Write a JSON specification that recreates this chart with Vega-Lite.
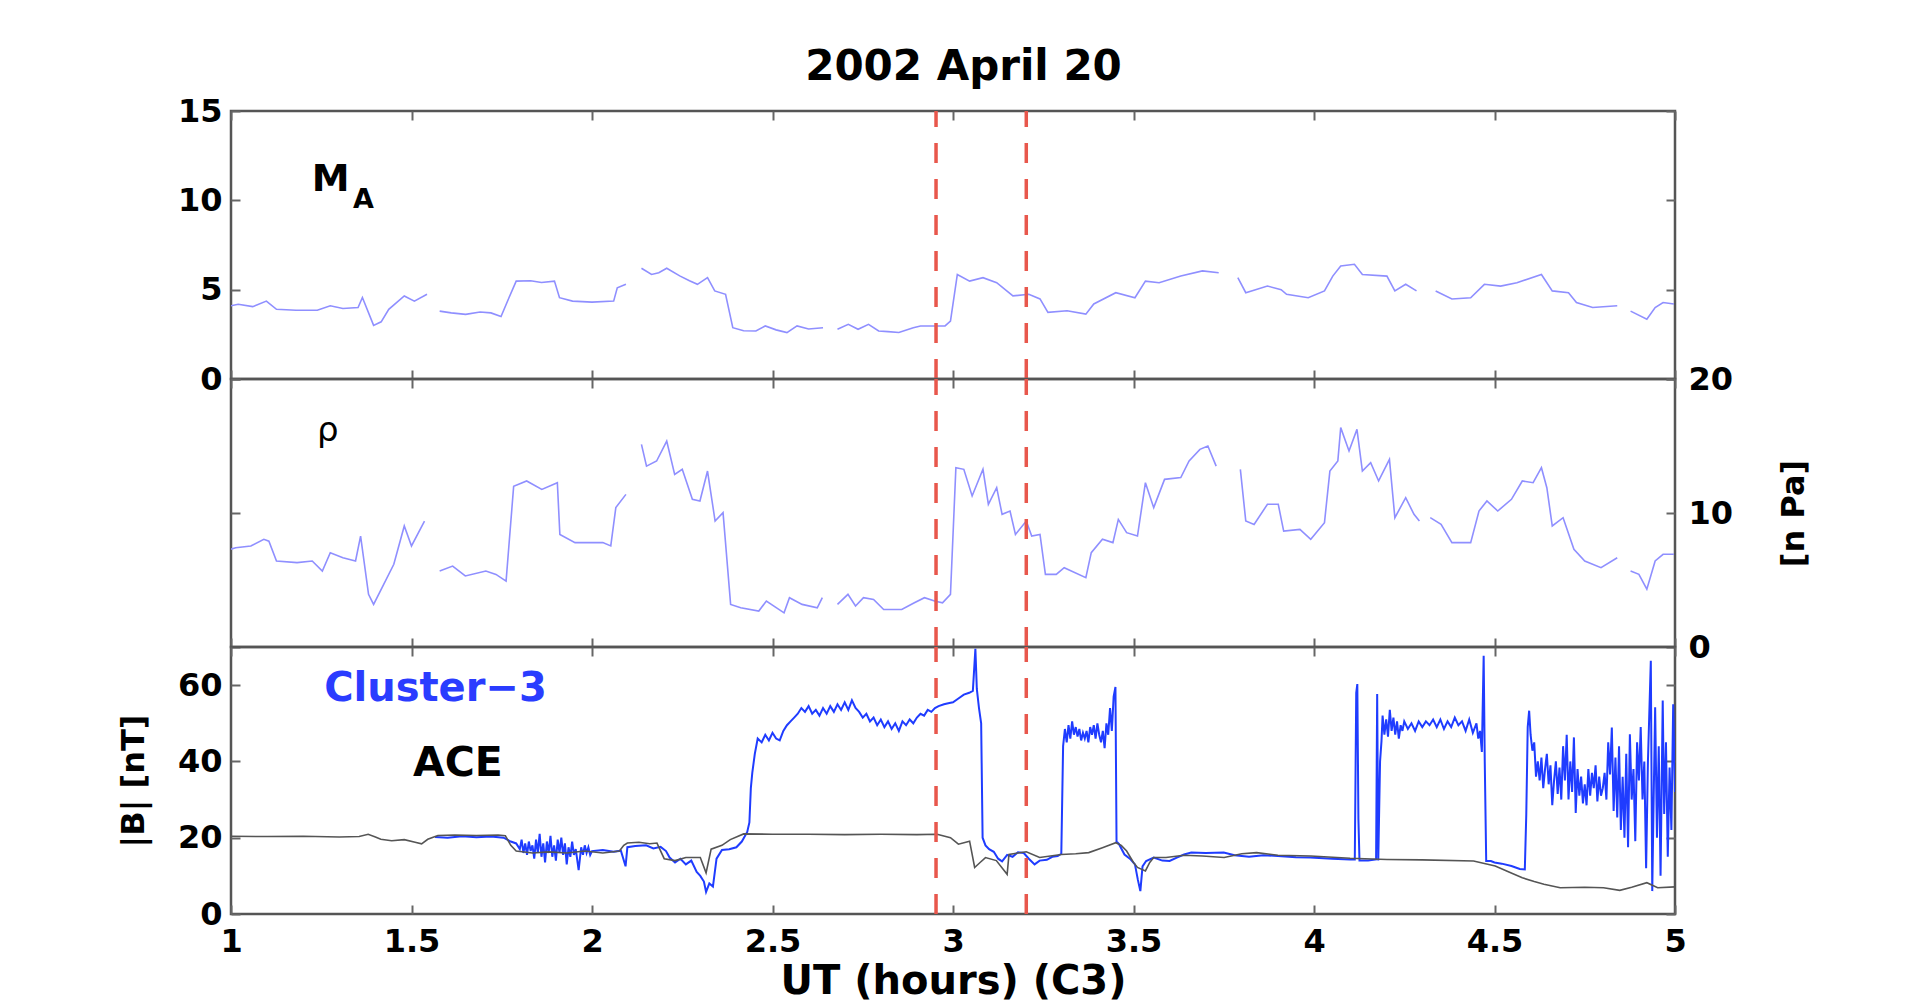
{
"$schema": "https://vega.github.io/schema/vega-lite/v6.json",
"padding": {"left": 116, "top": 45, "right": 10, "bottom": 5},
"bounds": "flush",
"spacing": 0,
"title": {"text": "2002 April 20", "fontSize": 42, "fontWeight": "bold", "font": "DejaVu Sans", "color": "#000000", "anchor": "middle", "offset": 5},
"datasets": {
"red": [{"t": 2.953}, {"t": 3.203}],
"ma": [
{"t":1.0,"v":4.1,"s":1},{"t":1.02,"v":4.18,"s":1},{"t":1.06,"v":4.05,"s":1},{"t":1.098,"v":4.36,"s":1},{"t":1.126,"v":3.9,"s":1},{"t":1.18,"v":3.85,"s":1},{"t":1.239,"v":3.85,"s":1},{"t":1.275,"v":4.1,"s":1},{"t":1.31,"v":3.95,"s":1},{"t":1.352,"v":4.0,"s":1},{"t":1.364,"v":4.56,"s":1},{"t":1.395,"v":3.0,"s":1},{"t":1.416,"v":3.2,"s":1},{"t":1.437,"v":3.9,"s":1},{"t":1.48,"v":4.65,"s":1},{"t":1.508,"v":4.36,"s":1},{"t":1.543,"v":4.74,"s":1},
{"t":1.578,"v":3.8,"s":2},{"t":1.61,"v":3.7,"s":2},{"t":1.65,"v":3.62,"s":2},{"t":1.69,"v":3.75,"s":2},{"t":1.72,"v":3.7,"s":2},{"t":1.748,"v":3.5,"s":2},{"t":1.77,"v":4.55,"s":2},{"t":1.79,"v":5.48,"s":2},{"t":1.83,"v":5.5,"s":2},{"t":1.86,"v":5.4,"s":2},{"t":1.896,"v":5.48,"s":2},{"t":1.91,"v":4.55,"s":2},{"t":1.946,"v":4.36,"s":2},{"t":2.0,"v":4.3,"s":2},{"t":2.06,"v":4.36,"s":2},{"t":2.07,"v":5.1,"s":2},{"t":2.094,"v":5.3,"s":2},
{"t":2.137,"v":6.2,"s":3},{"t":2.165,"v":5.85,"s":3},{"t":2.185,"v":5.95,"s":3},{"t":2.207,"v":6.2,"s":3},{"t":2.243,"v":5.77,"s":3},{"t":2.27,"v":5.5,"s":3},{"t":2.292,"v":5.3,"s":3},{"t":2.32,"v":5.67,"s":3},{"t":2.34,"v":4.93,"s":3},{"t":2.37,"v":4.74,"s":3},{"t":2.39,"v":2.87,"s":3},{"t":2.42,"v":2.7,"s":3},{"t":2.454,"v":2.69,"s":3},{"t":2.48,"v":2.97,"s":3},{"t":2.51,"v":2.75,"s":3},{"t":2.54,"v":2.6,"s":3},{"t":2.568,"v":2.97,"s":3},{"t":2.6,"v":2.8,"s":3},{"t":2.64,"v":2.87,"s":3},
{"t":2.68,"v":2.78,"s":4},{"t":2.71,"v":3.06,"s":4},{"t":2.737,"v":2.78,"s":4},{"t":2.766,"v":3.06,"s":4},{"t":2.794,"v":2.69,"s":4},{"t":2.82,"v":2.65,"s":4},{"t":2.85,"v":2.6,"s":4},{"t":2.89,"v":2.87,"s":4},{"t":2.91,"v":2.97,"s":4},{"t":2.95,"v":2.97,"s":4},{"t":2.978,"v":2.97,"s":4},{"t":2.993,"v":3.24,"s":4},{"t":3.012,"v":5.85,"s":4},{"t":3.046,"v":5.48,"s":4},{"t":3.083,"v":5.67,"s":4},{"t":3.121,"v":5.39,"s":4},{"t":3.166,"v":4.65,"s":4},{"t":3.21,"v":4.74,"s":4},{"t":3.241,"v":4.48,"s":4},{"t":3.263,"v":3.73,"s":4},{"t":3.316,"v":3.82,"s":4},{"t":3.368,"v":3.63,"s":4},{"t":3.39,"v":4.2,"s":4},{"t":3.451,"v":4.83,"s":4},{"t":3.504,"v":4.55,"s":4},{"t":3.533,"v":5.48,"s":4},{"t":3.571,"v":5.39,"s":4},{"t":3.631,"v":5.76,"s":4},{"t":3.691,"v":6.05,"s":4},{"t":3.736,"v":5.95,"s":4},
{"t":3.789,"v":5.67,"s":5},{"t":3.811,"v":4.83,"s":5},{"t":3.871,"v":5.2,"s":5},{"t":3.909,"v":5.0,"s":5},{"t":3.924,"v":4.74,"s":5},{"t":3.984,"v":4.55,"s":5},{"t":4.029,"v":4.93,"s":5},{"t":4.052,"v":5.76,"s":5},{"t":4.074,"v":6.33,"s":5},{"t":4.112,"v":6.42,"s":5},{"t":4.134,"v":5.85,"s":5},{"t":4.202,"v":5.76,"s":5},{"t":4.224,"v":4.93,"s":5},{"t":4.254,"v":5.3,"s":5},{"t":4.284,"v":4.93,"s":5},
{"t":4.337,"v":4.93,"s":6},{"t":4.382,"v":4.48,"s":6},{"t":4.434,"v":4.55,"s":6},{"t":4.472,"v":5.3,"s":6},{"t":4.517,"v":5.2,"s":6},{"t":4.562,"v":5.39,"s":6},{"t":4.63,"v":5.85,"s":6},{"t":4.66,"v":4.93,"s":6},{"t":4.705,"v":4.83,"s":6},{"t":4.727,"v":4.28,"s":6},{"t":4.772,"v":4.0,"s":6},{"t":4.84,"v":4.1,"s":6},
{"t":4.877,"v":3.8,"s":7},{"t":4.922,"v":3.34,"s":7},{"t":4.945,"v":4.0,"s":7},{"t":4.967,"v":4.28,"s":7},{"t":4.997,"v":4.2,"s":7}
],
"rho": [
{"t":1.0,"v":7.3,"s":1},{"t":1.013,"v":7.41,"s":1},{"t":1.055,"v":7.54,"s":1},{"t":1.091,"v":8.04,"s":1},{"t":1.105,"v":7.9,"s":1},{"t":1.126,"v":6.42,"s":1},{"t":1.183,"v":6.3,"s":1},{"t":1.225,"v":6.42,"s":1},{"t":1.253,"v":5.67,"s":1},{"t":1.275,"v":7.04,"s":1},{"t":1.31,"v":6.66,"s":1},{"t":1.345,"v":6.42,"s":1},{"t":1.359,"v":8.28,"s":1},{"t":1.381,"v":3.93,"s":1},{"t":1.395,"v":3.18,"s":1},{"t":1.423,"v":4.68,"s":1},{"t":1.451,"v":6.17,"s":1},{"t":1.48,"v":9.03,"s":1},{"t":1.5,"v":7.54,"s":1},{"t":1.536,"v":9.4,"s":1},
{"t":1.578,"v":5.67,"s":2},{"t":1.614,"v":6.04,"s":2},{"t":1.649,"v":5.3,"s":2},{"t":1.706,"v":5.67,"s":2},{"t":1.734,"v":5.42,"s":2},{"t":1.762,"v":4.92,"s":2},{"t":1.783,"v":12.0,"s":2},{"t":1.819,"v":12.39,"s":2},{"t":1.861,"v":11.76,"s":2},{"t":1.904,"v":12.26,"s":2},{"t":1.911,"v":8.4,"s":2},{"t":1.953,"v":7.79,"s":2},{"t":2.03,"v":7.79,"s":2},{"t":2.052,"v":7.54,"s":2},{"t":2.066,"v":10.4,"s":2},{"t":2.094,"v":11.39,"s":2},
{"t":2.137,"v":15.12,"s":3},{"t":2.151,"v":13.5,"s":3},{"t":2.179,"v":13.88,"s":3},{"t":2.207,"v":15.37,"s":3},{"t":2.229,"v":12.88,"s":3},{"t":2.25,"v":13.26,"s":3},{"t":2.278,"v":11.02,"s":3},{"t":2.299,"v":10.9,"s":3},{"t":2.32,"v":13.13,"s":3},{"t":2.341,"v":9.4,"s":3},{"t":2.363,"v":10.03,"s":3},{"t":2.384,"v":3.18,"s":3},{"t":2.412,"v":2.93,"s":3},{"t":2.462,"v":2.68,"s":3},{"t":2.483,"v":3.43,"s":3},{"t":2.532,"v":2.55,"s":3},{"t":2.547,"v":3.68,"s":3},{"t":2.582,"v":3.18,"s":3},{"t":2.624,"v":2.93,"s":3},{"t":2.638,"v":3.68,"s":3},
{"t":2.68,"v":3.18,"s":4},{"t":2.709,"v":3.93,"s":4},{"t":2.73,"v":3.06,"s":4},{"t":2.752,"v":3.68,"s":4},{"t":2.78,"v":3.55,"s":4},{"t":2.808,"v":2.8,"s":4},{"t":2.858,"v":2.8,"s":4},{"t":2.893,"v":3.3,"s":4},{"t":2.921,"v":3.68,"s":4},{"t":2.949,"v":3.43,"s":4},{"t":2.971,"v":3.3,"s":4},{"t":2.993,"v":3.93,"s":4},{"t":3.008,"v":13.38,"s":4},{"t":3.03,"v":13.26,"s":4},{"t":3.053,"v":11.27,"s":4},{"t":3.083,"v":13.26,"s":4},{"t":3.098,"v":10.65,"s":4},{"t":3.121,"v":11.89,"s":4},{"t":3.136,"v":9.9,"s":4},{"t":3.158,"v":10.15,"s":4},{"t":3.173,"v":8.4,"s":4},{"t":3.203,"v":9.4,"s":4},{"t":3.218,"v":8.28,"s":4},{"t":3.241,"v":8.4,"s":4},{"t":3.256,"v":5.42,"s":4},{"t":3.286,"v":5.42,"s":4},{"t":3.308,"v":5.92,"s":4},{"t":3.368,"v":5.17,"s":4},{"t":3.383,"v":7.04,"s":4},{"t":3.414,"v":8.04,"s":4},{"t":3.443,"v":7.79,"s":4},{"t":3.458,"v":9.52,"s":4},{"t":3.481,"v":8.53,"s":4},{"t":3.511,"v":8.28,"s":4},{"t":3.533,"v":12.26,"s":4},{"t":3.556,"v":10.4,"s":4},{"t":3.586,"v":12.51,"s":4},{"t":3.631,"v":12.64,"s":4},{"t":3.654,"v":13.88,"s":4},{"t":3.684,"v":14.75,"s":4},{"t":3.706,"v":15.0,"s":4},{"t":3.729,"v":13.5,"s":4},
{"t":3.796,"v":13.26,"s":5},{"t":3.811,"v":9.4,"s":5},{"t":3.834,"v":9.15,"s":5},{"t":3.871,"v":10.65,"s":5},{"t":3.901,"v":10.65,"s":5},{"t":3.916,"v":8.65,"s":5},{"t":3.961,"v":8.78,"s":5},{"t":3.991,"v":8.04,"s":5},{"t":4.029,"v":9.28,"s":5},{"t":4.044,"v":13.13,"s":5},{"t":4.066,"v":13.88,"s":5},{"t":4.074,"v":16.37,"s":5},{"t":4.097,"v":14.63,"s":5},{"t":4.119,"v":16.24,"s":5},{"t":4.134,"v":13.13,"s":5},{"t":4.157,"v":13.76,"s":5},{"t":4.179,"v":12.39,"s":5},{"t":4.209,"v":14.0,"s":5},{"t":4.224,"v":9.65,"s":5},{"t":4.254,"v":11.14,"s":5},{"t":4.277,"v":9.9,"s":5},{"t":4.292,"v":9.4,"s":5},
{"t":4.322,"v":9.65,"s":6},{"t":4.352,"v":9.15,"s":6},{"t":4.382,"v":7.79,"s":6},{"t":4.434,"v":7.79,"s":6},{"t":4.457,"v":10.15,"s":6},{"t":4.479,"v":10.9,"s":6},{"t":4.509,"v":10.15,"s":6},{"t":4.547,"v":11.02,"s":6},{"t":4.577,"v":12.39,"s":6},{"t":4.607,"v":12.26,"s":6},{"t":4.63,"v":13.38,"s":6},{"t":4.645,"v":11.89,"s":6},{"t":4.66,"v":9.03,"s":6},{"t":4.69,"v":9.65,"s":6},{"t":4.72,"v":7.29,"s":6},{"t":4.75,"v":6.42,"s":6},{"t":4.795,"v":5.92,"s":6},{"t":4.84,"v":6.66,"s":6},
{"t":4.877,"v":5.67,"s":7},{"t":4.9,"v":5.42,"s":7},{"t":4.922,"v":4.31,"s":7},{"t":4.945,"v":6.42,"s":7},{"t":4.967,"v":6.92,"s":7},{"t":4.997,"v":6.92,"s":7}
],
"bc": [
{"t":1.565,"v":20.2},{"t":1.6,"v":20.0},{"t":1.64,"v":20.4},{"t":1.68,"v":20.1},{"t":1.72,"v":20.3},{"t":1.755,"v":20.0},{"t":1.775,"v":19.0},{"t":1.79,"v":18.5},
{"t":1.8,"v":17.0},{"t":1.805,"v":19.5},{"t":1.81,"v":16.0},{"t":1.815,"v":18.5},{"t":1.82,"v":15.5},{"t":1.825,"v":19.0},{"t":1.83,"v":16.5},{"t":1.835,"v":18.0},{"t":1.84,"v":14.5},{"t":1.845,"v":19.5},{"t":1.85,"v":16.0},{"t":1.855,"v":21.0},{"t":1.86,"v":15.0},{"t":1.865,"v":18.5},{"t":1.87,"v":13.5},{"t":1.875,"v":19.0},{"t":1.88,"v":16.0},{"t":1.885,"v":20.5},{"t":1.89,"v":15.0},{"t":1.895,"v":18.0},{"t":1.9,"v":14.0},{"t":1.905,"v":19.5},{"t":1.91,"v":16.0},{"t":1.915,"v":20.0},{"t":1.92,"v":15.5},{"t":1.925,"v":18.5},{"t":1.93,"v":13.0},{"t":1.935,"v":17.5},{"t":1.94,"v":15.0},{"t":1.945,"v":19.0},{"t":1.95,"v":15.5},{"t":1.955,"v":17.0},{"t":1.963,"v":11.5},{"t":1.97,"v":17.5},{"t":1.975,"v":15.5},{"t":1.98,"v":18.0},{"t":1.985,"v":16.0},{"t":1.99,"v":17.5},{"t":1.995,"v":15.5},
{"t":2.0,"v":16.5},{"t":2.03,"v":16.8},{"t":2.06,"v":16.3},{"t":2.08,"v":16.6},{"t":2.093,"v":12.5},{"t":2.098,"v":17.5},{"t":2.12,"v":17.8},{"t":2.15,"v":18.0},{"t":2.17,"v":17.2},{"t":2.19,"v":17.6},{"t":2.205,"v":16.5},{"t":2.215,"v":14.8},{"t":2.23,"v":13.5},{"t":2.245,"v":14.5},{"t":2.26,"v":13.0},{"t":2.275,"v":14.0},{"t":2.29,"v":11.0},{"t":2.3,"v":10.0},{"t":2.31,"v":8.5},{"t":2.316,"v":5.8},{"t":2.325,"v":8.0},{"t":2.335,"v":7.2},{"t":2.345,"v":14.5},{"t":2.36,"v":16.8},{"t":2.38,"v":17.0},{"t":2.4,"v":17.5},{"t":2.415,"v":19.0},{"t":2.43,"v":21.5},{"t":2.436,"v":24.0},{"t":2.44,"v":33.0},{"t":2.444,"v":37.0},{"t":2.451,"v":42.0},{"t":2.459,"v":46.0},
{"t":2.47,"v":45.0},{"t":2.48,"v":47.0},{"t":2.49,"v":45.5},{"t":2.5,"v":47.5},{"t":2.51,"v":46.0},{"t":2.52,"v":45.5},{"t":2.53,"v":48.0},{"t":2.54,"v":49.5},{"t":2.55,"v":50.5},{"t":2.56,"v":51.5},{"t":2.57,"v":52.5},{"t":2.58,"v":54.0},{"t":2.59,"v":53.0},{"t":2.6,"v":54.5},{"t":2.61,"v":52.5},{"t":2.62,"v":53.5},{"t":2.63,"v":52.0},{"t":2.64,"v":54.0},{"t":2.65,"v":52.5},{"t":2.66,"v":54.5},{"t":2.67,"v":53.0},{"t":2.68,"v":55.0},{"t":2.69,"v":53.5},{"t":2.7,"v":55.5},{"t":2.71,"v":53.5},{"t":2.72,"v":56.0},{"t":2.73,"v":54.0},{"t":2.74,"v":53.0},{"t":2.75,"v":51.5},{"t":2.76,"v":52.5},{"t":2.77,"v":50.5},{"t":2.78,"v":51.5},{"t":2.79,"v":49.5},{"t":2.8,"v":51.0},{"t":2.81,"v":49.0},{"t":2.82,"v":50.5},{"t":2.83,"v":48.5},{"t":2.84,"v":50.0},{"t":2.85,"v":48.0},{"t":2.86,"v":50.5},{"t":2.87,"v":49.5},{"t":2.88,"v":51.0},{"t":2.89,"v":50.0},{"t":2.9,"v":51.5},{"t":2.91,"v":52.5},{"t":2.92,"v":52.0},{"t":2.93,"v":53.5},{"t":2.94,"v":53.0},{"t":2.95,"v":54.0},{"t":2.96,"v":54.5},{"t":2.975,"v":55.0},{"t":2.99,"v":55.3},{"t":3.0,"v":55.5},{"t":3.015,"v":56.5},{"t":3.03,"v":57.5},{"t":3.045,"v":58.0},{"t":3.055,"v":58.5},{"t":3.062,"v":69.5},{"t":3.066,"v":59.0},{"t":3.072,"v":54.0},{"t":3.078,"v":50.0},{"t":3.082,"v":20.0},
{"t":3.09,"v":18.0},{"t":3.1,"v":17.0},{"t":3.113,"v":16.3},{"t":3.125,"v":14.5},{"t":3.136,"v":13.8},{"t":3.15,"v":15.5},{"t":3.165,"v":15.0},{"t":3.18,"v":16.2},{"t":3.196,"v":16.0},{"t":3.21,"v":14.5},{"t":3.226,"v":13.0},{"t":3.24,"v":14.0},{"t":3.26,"v":14.2},{"t":3.275,"v":15.0},{"t":3.29,"v":15.2},{"t":3.3,"v":15.8},
{"t":3.305,"v":44.0},{"t":3.31,"v":48.5},{"t":3.315,"v":45.0},{"t":3.32,"v":49.5},{"t":3.325,"v":46.0},{"t":3.33,"v":50.5},{"t":3.335,"v":47.0},{"t":3.34,"v":49.0},{"t":3.345,"v":46.5},{"t":3.35,"v":48.5},{"t":3.355,"v":45.5},{"t":3.36,"v":47.5},{"t":3.365,"v":46.0},{"t":3.37,"v":48.0},{"t":3.375,"v":45.0},{"t":3.38,"v":49.0},{"t":3.385,"v":47.0},{"t":3.39,"v":49.5},{"t":3.395,"v":46.0},{"t":3.4,"v":50.0},{"t":3.405,"v":47.0},{"t":3.41,"v":45.0},{"t":3.415,"v":48.0},{"t":3.42,"v":43.5},{"t":3.425,"v":50.0},{"t":3.43,"v":47.0},{"t":3.435,"v":54.0},{"t":3.44,"v":48.0},{"t":3.445,"v":57.0},{"t":3.45,"v":59.5},{"t":3.453,"v":19.0},
{"t":3.46,"v":18.3},{"t":3.475,"v":15.6},{"t":3.49,"v":14.5},{"t":3.504,"v":13.0},{"t":3.512,"v":9.0},{"t":3.519,"v":6.0},{"t":3.525,"v":12.5},{"t":3.535,"v":13.9},{"t":3.556,"v":14.8},{"t":3.58,"v":14.0},{"t":3.6,"v":13.9},{"t":3.62,"v":14.8},{"t":3.64,"v":15.6},{"t":3.66,"v":16.1},{"t":3.7,"v":16.0},{"t":3.75,"v":16.1},{"t":3.78,"v":15.4},{"t":3.82,"v":15.0},{"t":3.86,"v":15.4},{"t":3.9,"v":15.2},{"t":3.95,"v":14.9},{"t":3.99,"v":14.8},{"t":4.05,"v":14.5},{"t":4.1,"v":14.3},{"t":4.113,"v":14.3},{"t":4.117,"v":58.0},{"t":4.12,"v":60.3},{"t":4.123,"v":25.0},{"t":4.126,"v":14.0},{"t":4.15,"v":14.0},{"t":4.172,"v":14.3},{"t":4.175,"v":57.7},{"t":4.178,"v":14.0},
{"t":4.183,"v":40.0},{"t":4.187,"v":45.4},{"t":4.19,"v":52.0},{"t":4.195,"v":47.0},{"t":4.2,"v":51.0},{"t":4.205,"v":46.5},{"t":4.21,"v":53.5},{"t":4.215,"v":48.0},{"t":4.22,"v":51.5},{"t":4.225,"v":47.0},{"t":4.23,"v":50.5},{"t":4.235,"v":46.0},{"t":4.24,"v":49.5},{"t":4.245,"v":48.0},{"t":4.25,"v":50.5},{"t":4.26,"v":48.5},{"t":4.27,"v":50.0},{"t":4.28,"v":48.0},{"t":4.29,"v":50.5},{"t":4.3,"v":49.0},{"t":4.31,"v":50.5},{"t":4.32,"v":49.5},{"t":4.33,"v":51.0},{"t":4.34,"v":49.0},{"t":4.35,"v":51.0},{"t":4.36,"v":48.5},{"t":4.37,"v":50.5},{"t":4.38,"v":49.0},{"t":4.39,"v":51.5},{"t":4.4,"v":49.5},{"t":4.41,"v":50.5},{"t":4.42,"v":48.0},{"t":4.43,"v":51.0},{"t":4.44,"v":47.5},{"t":4.45,"v":50.0},{"t":4.455,"v":46.0},{"t":4.46,"v":48.0},{"t":4.465,"v":42.5},{"t":4.47,"v":67.7},{"t":4.473,"v":40.0},{"t":4.477,"v":13.9},
{"t":4.49,"v":13.9},{"t":4.5,"v":13.5},{"t":4.52,"v":13.2},{"t":4.547,"v":12.6},{"t":4.57,"v":11.8},{"t":4.584,"v":11.7},{"t":4.588,"v":26.0},{"t":4.592,"v":49.0},{"t":4.596,"v":53.3},{"t":4.6,"v":47.0},{"t":4.605,"v":42.8},{"t":4.61,"v":45.0},{"t":4.615,"v":36.0},{"t":4.62,"v":40.0},{"t":4.625,"v":35.0},{"t":4.63,"v":41.0},{"t":4.635,"v":33.0},{"t":4.64,"v":38.0},{"t":4.645,"v":42.0},{"t":4.65,"v":34.0},{"t":4.655,"v":39.0},{"t":4.66,"v":28.5},{"t":4.665,"v":35.0},{"t":4.67,"v":40.0},{"t":4.675,"v":31.5},{"t":4.68,"v":38.4},{"t":4.685,"v":30.0},{"t":4.69,"v":44.0},{"t":4.695,"v":35.0},{"t":4.7,"v":47.0},{"t":4.705,"v":30.0},{"t":4.71,"v":40.0},{"t":4.715,"v":32.0},{"t":4.72,"v":46.3},{"t":4.725,"v":26.5},{"t":4.73,"v":38.0},{"t":4.735,"v":31.0},{"t":4.74,"v":36.0},{"t":4.745,"v":29.0},{"t":4.75,"v":34.0},{"t":4.755,"v":28.5},{"t":4.76,"v":38.0},{"t":4.765,"v":31.0},{"t":4.77,"v":37.0},{"t":4.775,"v":33.0},{"t":4.78,"v":39.0},{"t":4.785,"v":29.5},{"t":4.79,"v":36.0},{"t":4.795,"v":31.0},{"t":4.8,"v":33.0},{"t":4.805,"v":37.0},{"t":4.81,"v":30.0},{"t":4.815,"v":45.0},{"t":4.82,"v":36.6},{"t":4.825,"v":48.9},{"t":4.83,"v":27.0},{"t":4.835,"v":41.0},{"t":4.84,"v":25.3},{"t":4.845,"v":44.0},{"t":4.85,"v":22.0},{"t":4.855,"v":36.0},{"t":4.86,"v":20.0},{"t":4.865,"v":42.0},{"t":4.87,"v":17.5},{"t":4.875,"v":47.1},{"t":4.88,"v":30.0},{"t":4.885,"v":38.0},{"t":4.89,"v":19.1},{"t":4.895,"v":45.0},{"t":4.9,"v":35.0},{"t":4.905,"v":49.0},{"t":4.91,"v":30.0},{"t":4.915,"v":40.0},{"t":4.92,"v":12.0},{"t":4.925,"v":40.0},{"t":4.933,"v":66.4},{"t":4.937,"v":6.0},{"t":4.94,"v":25.0},{"t":4.945,"v":54.2},{"t":4.95,"v":20.0},{"t":4.955,"v":44.0},{"t":4.96,"v":10.0},{"t":4.966,"v":56.0},{"t":4.97,"v":26.2},{"t":4.975,"v":45.0},{"t":4.98,"v":15.0},{"t":4.985,"v":38.4},{"t":4.99,"v":22.0},{"t":4.995,"v":55.0},{"t":5.0,"v":32.0}
],
"ace": [
{"t":1.0,"v":20.4},{"t":1.1,"v":20.3},{"t":1.2,"v":20.4},{"t":1.3,"v":20.2},{"t":1.355,"v":20.3},{"t":1.38,"v":20.9},{"t":1.4,"v":20.2},{"t":1.415,"v":19.6},{"t":1.445,"v":19.2},{"t":1.48,"v":19.5},{"t":1.51,"v":18.8},{"t":1.528,"v":18.4},{"t":1.545,"v":19.6},{"t":1.573,"v":20.6},{"t":1.62,"v":20.7},{"t":1.68,"v":20.6},{"t":1.74,"v":20.7},{"t":1.76,"v":20.5},{"t":1.775,"v":18.0},{"t":1.79,"v":16.5},{"t":1.835,"v":16.0},{"t":1.88,"v":16.3},{"t":1.93,"v":16.0},{"t":1.98,"v":16.5},{"t":2.03,"v":16.0},{"t":2.076,"v":16.5},{"t":2.088,"v":18.0},{"t":2.098,"v":18.6},{"t":2.13,"v":18.8},{"t":2.16,"v":18.4},{"t":2.18,"v":18.6},{"t":2.2,"v":14.5},{"t":2.23,"v":14.0},{"t":2.26,"v":14.8},{"t":2.3,"v":14.8},{"t":2.316,"v":10.8},{"t":2.33,"v":17.0},{"t":2.36,"v":18.0},{"t":2.383,"v":19.5},{"t":2.42,"v":21.0},{"t":2.5,"v":20.9},{"t":2.6,"v":20.9},{"t":2.7,"v":20.8},{"t":2.8,"v":20.9},{"t":2.9,"v":20.8},{"t":2.956,"v":20.9},{"t":2.993,"v":20.0},{"t":3.015,"v":18.3},{"t":3.046,"v":19.1},{"t":3.06,"v":12.2},{"t":3.075,"v":13.5},{"t":3.09,"v":14.8},{"t":3.12,"v":14.0},{"t":3.15,"v":10.4},{"t":3.155,"v":15.6},{"t":3.18,"v":16.0},{"t":3.203,"v":16.3},{"t":3.24,"v":14.8},{"t":3.27,"v":15.2},{"t":3.3,"v":15.6},{"t":3.34,"v":15.8},{"t":3.376,"v":16.1},{"t":3.414,"v":17.4},{"t":3.451,"v":18.7},{"t":3.466,"v":18.0},{"t":3.481,"v":16.5},{"t":3.5,"v":13.5},{"t":3.511,"v":12.2},{"t":3.533,"v":11.3},{"t":3.545,"v":13.5},{"t":3.556,"v":14.8},{"t":3.59,"v":14.8},{"t":3.64,"v":15.4},{"t":3.691,"v":15.2},{"t":3.751,"v":14.8},{"t":3.8,"v":15.8},{"t":3.841,"v":16.1},{"t":3.9,"v":15.4},{"t":3.991,"v":15.2},{"t":4.1,"v":14.6},{"t":4.202,"v":14.3},{"t":4.3,"v":14.2},{"t":4.442,"v":13.9},{"t":4.502,"v":12.6},{"t":4.54,"v":11.0},{"t":4.577,"v":9.5},{"t":4.61,"v":8.5},{"t":4.637,"v":7.8},{"t":4.682,"v":6.9},{"t":4.75,"v":7.0},{"t":4.802,"v":6.9},{"t":4.847,"v":6.2},{"t":4.88,"v":7.0},{"t":4.922,"v":8.2},{"t":4.952,"v":6.9},{"t":5.0,"v":7.1}
]
},
"vconcat": [
{
"width": 1444, "height": 268,
"layer": [
{"data": {"name": "ma"},
 "mark": {"type": "line", "color": "#8f8fff", "strokeWidth": 1.6, "clip": true},
 "encoding": {
  "x": {"field": "t", "type": "quantitative", "scale": {"domain": [1, 5], "nice": false}, "axis": {"orient": "bottom", "values": [1,1.5,2,2.5,3,3.5,4,4.5,5], "labels": false, "title": null}},
  "y": {"field": "v", "type": "quantitative", "scale": {"domain": [0, 15], "nice": false}, "axis": {"orient": "left", "values": [0,5,10,15], "title": null, "labelPadding": 18}},
  "detail": {"field": "s", "type": "nominal"}
 }},
{"data": {"name": "red"},
 "mark": {"type": "rule", "color": "#e8574c", "strokeWidth": 3.5, "strokeDash": [20, 16]},
 "encoding": {
  "x": {"field": "t", "type": "quantitative", "axis": {"orient": "top", "values": [1,1.5,2,2.5,3,3.5,4,4.5,5], "labels": false, "title": null}},
  "y": {"datum": 0, "type": "quantitative", "axis": {"orient": "right", "values": [0,5,10,15], "labels": false, "title": null}},
  "y2": {"datum": 15}
 }},
{"data": {"values": [{}]},
 "mark": {"type": "text", "text": "M", "align": "left", "baseline": "alphabetic", "fontSize": 38, "fontWeight": "bold", "font": "DejaVu Sans", "color": "#000000"},
 "encoding": {"x": {"datum": 1.224, "type": "quantitative", "axis": null}, "y": {"datum": 10.52, "type": "quantitative", "axis": null}}},
{"data": {"values": [{}]},
 "mark": {"type": "text", "text": "A", "align": "left", "baseline": "alphabetic", "fontSize": 27, "fontWeight": "bold", "font": "DejaVu Sans", "color": "#000000"},
 "encoding": {"x": {"datum": 1.338, "type": "quantitative", "axis": null}, "y": {"datum": 9.57, "type": "quantitative", "axis": null}}}
],
"resolve": {"axis": {"x": "independent", "y": "independent"}}
},
{
"width": 1444, "height": 268,
"layer": [
{"data": {"name": "rho"},
 "mark": {"type": "line", "color": "#8f8fff", "strokeWidth": 1.6, "clip": true},
 "encoding": {
  "x": {"field": "t", "type": "quantitative", "scale": {"domain": [1, 5], "nice": false}, "axis": {"orient": "bottom", "values": [1,1.5,2,2.5,3,3.5,4,4.5,5], "labels": false, "title": null}},
  "y": {"field": "v", "type": "quantitative", "scale": {"domain": [0, 20], "nice": false}, "axis": {"orient": "left", "values": [0,10,20], "labels": false, "title": null}},
  "detail": {"field": "s", "type": "nominal"}
 }},
{"data": {"name": "red"},
 "mark": {"type": "rule", "color": "#e8574c", "strokeWidth": 3.5, "strokeDash": [20, 16]},
 "encoding": {
  "x": {"field": "t", "type": "quantitative", "axis": {"orient": "top", "values": [1,1.5,2,2.5,3,3.5,4,4.5,5], "labels": false, "title": null}},
  "y": {"datum": 0, "type": "quantitative", "axis": {"orient": "right", "values": [0,10,20], "title": "[n Pa]", "titleAngle": -90, "titleFontSize": 32, "labelPadding": 22, "titlePadding": 78}},
  "y2": {"datum": 20}
 }},
{"data": {"values": [{}]},
 "mark": {"type": "text", "text": "ρ", "align": "left", "baseline": "alphabetic", "fontSize": 34, "font": "DejaVu Sans", "color": "#000000"},
 "encoding": {"x": {"datum": 1.238, "type": "quantitative", "axis": null}, "y": {"datum": 15.37, "type": "quantitative", "axis": null}}}
],
"resolve": {"axis": {"x": "independent", "y": "independent"}}
},
{
"width": 1444, "height": 267,
"layer": [
{"data": {"name": "bc"},
 "mark": {"type": "line", "color": "#1f3cff", "strokeWidth": 2, "clip": true},
 "encoding": {
  "x": {"field": "t", "type": "quantitative", "scale": {"domain": [1, 5], "nice": false}, "axis": {"orient": "bottom", "values": [1,1.5,2,2.5,3,3.5,4,4.5,5], "format": ".1~f", "title": "UT (hours) (C3)", "titleFontSize": 40, "labelPadding": 21, "titlePadding": 4}},
  "y": {"field": "v", "type": "quantitative", "scale": {"domain": [0, 70], "nice": false}, "axis": {"orient": "left", "values": [0,20,40,60], "title": "|B| [nT]", "titleFontSize": 32, "labelPadding": 18, "titlePadding": 27}}
 }},
{"data": {"name": "ace"},
 "mark": {"type": "line", "color": "#555555", "strokeWidth": 1.6, "clip": true},
 "encoding": {
  "x": {"field": "t", "type": "quantitative", "axis": null},
  "y": {"field": "v", "type": "quantitative", "axis": null}
 }},
{"data": {"name": "red"},
 "mark": {"type": "rule", "color": "#e8574c", "strokeWidth": 3.5, "strokeDash": [20, 16]},
 "encoding": {
  "x": {"field": "t", "type": "quantitative", "axis": {"orient": "top", "values": [1,1.5,2,2.5,3,3.5,4,4.5,5], "labels": false, "title": null}},
  "y": {"datum": 0, "type": "quantitative", "axis": {"orient": "right", "values": [0,20,40,60], "labels": false, "title": null}},
  "y2": {"datum": 70}
 }},
{"data": {"values": [{}]},
 "mark": {"type": "text", "text": "Cluster−3", "align": "left", "baseline": "alphabetic", "fontSize": 40, "fontWeight": "bold", "font": "DejaVu Sans", "color": "#2a3cff"},
 "encoding": {"x": {"datum": 1.258, "type": "quantitative", "axis": null}, "y": {"datum": 55.9, "type": "quantitative", "axis": null}}},
{"data": {"values": [{}]},
 "mark": {"type": "text", "text": "ACE", "align": "left", "baseline": "alphabetic", "fontSize": 41, "fontWeight": "bold", "font": "DejaVu Sans", "color": "#000000"},
 "encoding": {"x": {"datum": 1.504, "type": "quantitative", "axis": null}, "y": {"datum": 36.2, "type": "quantitative", "axis": null}}}
],
"resolve": {"axis": {"x": "independent", "y": "independent"}}
}
],
"config": {
 "font": "DejaVu Sans",
 "background": "#ffffff",
 "view": {"stroke": "#555555", "strokeWidth": 2.5},
 "axis": {"grid": false, "domain": false, "ticks": true, "tickSize": -9, "tickColor": "#666666", "tickWidth": 2, "labelFont": "DejaVu Sans", "labelFontSize": 32, "labelFontWeight": "bold", "labelColor": "#000000", "labelFlush": false, "labelOverlap": false, "titleFont": "DejaVu Sans", "titleFontWeight": "bold", "titleColor": "#000000"}
}
}
